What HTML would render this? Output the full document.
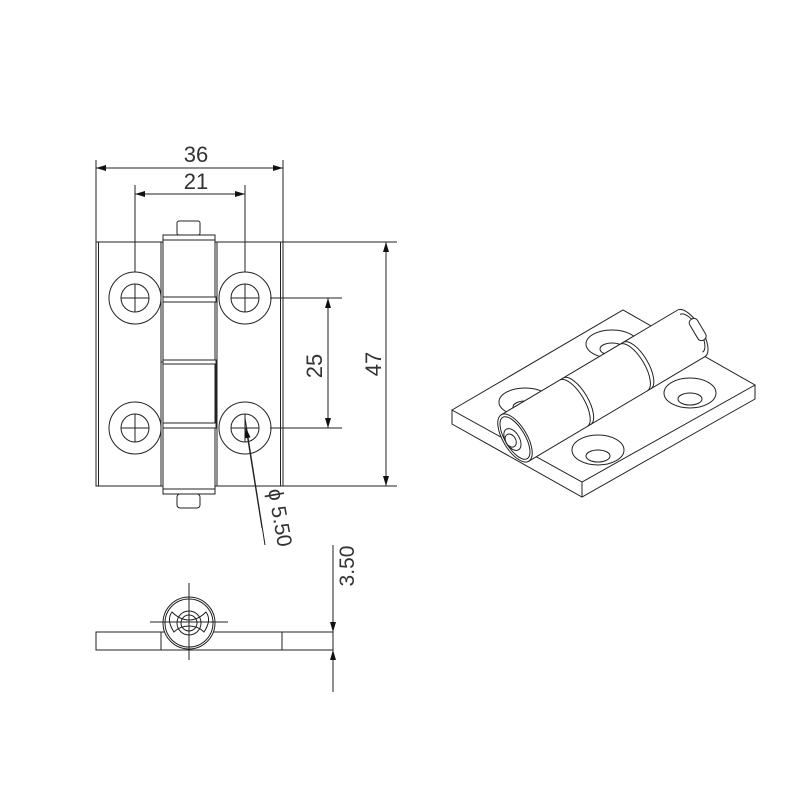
<!DOCTYPE html>
<html><head><style>body{margin:0;background:#fff}svg{display:block}text{font-family:"Liberation Sans Narrow","Liberation Sans",sans-serif;fill:#333}</style></head>
<body>
<svg width="800" height="800" viewBox="0 0 800 800" xmlns="http://www.w3.org/2000/svg">
<defs>
<marker id="a" viewBox="0 0 10 6" refX="10" refY="3" markerWidth="17" markerHeight="6" orient="auto-start-reverse" markerUnits="userSpaceOnUse"><path d="M0,0L10,3L0,6z" fill="#111"/></marker>
</defs>
<g fill="none" stroke="#222" stroke-width="1">
<rect x="96" y="242" width="187" height="244"/>
<line x1="98.5" y1="242" x2="98.5" y2="486"/>
<line x1="280.5" y1="242" x2="280.5" y2="486"/>
<line x1="161" y1="242" x2="161" y2="486"/>
<line x1="217" y1="242" x2="217" y2="486"/>
<rect x="163" y="235" width="52" height="259" fill="#fff"/>
<rect x="163" y="235" width="52" height="5"/>
<rect x="163" y="489" width="52" height="5"/>
<rect x="177" y="221" width="23" height="14" rx="2"/>
<rect x="177" y="494" width="23" height="14" rx="3"/>
<rect x="163" y="297" width="53" height="5" fill="#fff"/>
<rect x="163" y="423" width="53" height="5" fill="#fff"/>
<polyline points="161,302 161,362 216,362 216,423" />
<rect x="163" y="360" width="53" height="4" fill="#fff"/>
<g fill="#fff">
<circle cx="135" cy="298" r="26"/><circle cx="135" cy="298" r="14"/>
<circle cx="245" cy="298" r="26"/><circle cx="245" cy="298" r="14"/>
<circle cx="135" cy="428" r="26"/><circle cx="135" cy="428" r="14"/>
<circle cx="245" cy="428" r="26"/><circle cx="245" cy="428" r="14"/>
</g>
<path d="M121,298h28M135,284v28M231,298h28M245,284v28M121,428h28M135,414v28M231,428h28M245,414v28"/>
<path d="M96,160v82M283,160v82M135,185v87M245,185v87"/>
<line x1="96" y1="168" x2="283" y2="168" marker-start="url(#a)" marker-end="url(#a)"/>
<line x1="135" y1="194" x2="245" y2="194" marker-start="url(#a)" marker-end="url(#a)"/>
<path d="M283,242h114M283,486h114M270,298h72M270,428h72"/>
<line x1="386" y1="242" x2="386" y2="486" marker-start="url(#a)" marker-end="url(#a)"/>
<line x1="328" y1="298" x2="328" y2="428" marker-start="url(#a)" marker-end="url(#a)"/>
<line x1="265" y1="545" x2="245" y2="418"/>
<line x1="262" y1="528" x2="246" y2="428" marker-end="url(#a)"/>
<rect x="96" y="632" width="237" height="18"/>
<line x1="161" y1="632" x2="161" y2="650"/>
<line x1="282" y1="632" x2="282" y2="650"/>
<circle cx="189" cy="623" r="26" fill="#fff"/>
<circle cx="189" cy="623" r="24"/>
<circle cx="189" cy="623" r="12"/>
<circle cx="189" cy="623" r="8"/>
<path d="M172,612q8,8 17,8q9,0 17,-8q6,8 -2,20q-6,-6 -15,-6q-9,0 -15,6q-8,-12 -2,-20z"/>
<path d="M150,622h78M189,583v77"/>
<line x1="333" y1="545" x2="333" y2="632" marker-end="url(#a)"/>
<line x1="333" y1="692" x2="333" y2="650" marker-end="url(#a)"/>
<polygon points="452,410 623,310 755,385 582,482" fill="#fff"/>
<polyline points="452,410 452,424 582,497 755,399 755,385"/>
<line x1="582" y1="482" x2="582" y2="497"/>
<g fill="#fff">
<ellipse cx="525" cy="402" rx="26" ry="14"/><ellipse cx="525" cy="407" rx="12" ry="6"/>
<ellipse cx="612" cy="344" rx="26" ry="14"/><ellipse cx="612" cy="349" rx="12" ry="6"/>
<ellipse cx="598" cy="450" rx="26" ry="15"/><ellipse cx="598" cy="456" rx="12" ry="6"/>
<ellipse cx="690" cy="393" rx="26" ry="15"/><ellipse cx="690" cy="399" rx="12" ry="6"/>
</g>
<g transform="translate(515,438) rotate(-30.7)">
<path d="M0,-27H205A11,27 0 0 1 205,27H0z" fill="#fff"/>
<ellipse cx="0" cy="0" rx="12" ry="27" fill="#fff"/>
<ellipse cx="0" cy="0" rx="10" ry="24"/>
<ellipse cx="-3" cy="0" rx="7" ry="12" fill="#fff"/>
<ellipse cx="-5" cy="0" rx="5" ry="7"/>
<path d="M68,-27a11,27 0 0 1 0,54M72,-27a11,27 0 0 1 0,54M138,-27a11,27 0 0 1 0,54M142,-27a11,27 0 0 1 0,54"/>
<path d="M205,-22a9,22 0 0 1 0,44"/>
<rect x="208" y="-12" width="9" height="24" rx="4" fill="#fff"/>
</g>
</g>
<text x="196" y="162" font-size="22" text-anchor="middle">36</text>
<text x="196" y="189" font-size="22" text-anchor="middle">21</text>
<text transform="translate(381,364) rotate(-90)" font-size="22" text-anchor="middle">47</text>
<text transform="translate(322,366) rotate(-90)" font-size="22" text-anchor="middle">25</text>
<text transform="translate(268,490) rotate(80)" font-size="21">ϕ 5.50</text>
<text transform="translate(354,566) rotate(-90)" font-size="21" text-anchor="middle">3.50</text>
</svg>
</body></html>
